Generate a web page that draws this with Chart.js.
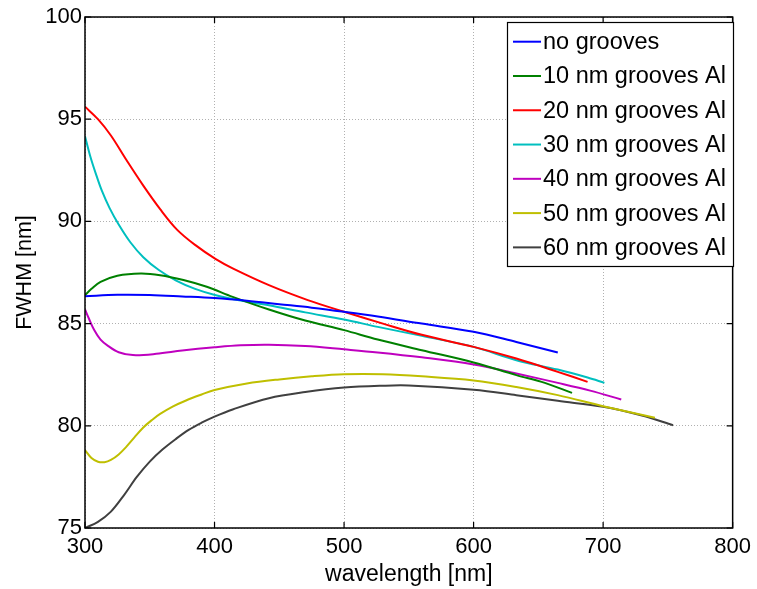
<!DOCTYPE html>
<html>
<head>
<meta charset="utf-8">
<script src="https://cdn.jsdelivr.net/npm/chart.js@4.4.1/dist/chart.umd.min.js"></script>
<style>
  html, body { margin: 0; padding: 0; background: #ffffff; }
  #wrap { width: 757px; height: 589px; position: relative; }
</style>
</head>
<body>
<div id="wrap"><canvas id="c" width="757" height="589"></canvas></div>
<script>
// ---- data ----
const seriesLabels = ['no grooves', '10 nm grooves Al', '20 nm grooves Al', '30 nm grooves Al',
                      '40 nm grooves Al', '50 nm grooves Al', '60 nm grooves Al'];

const wl0  = [300, 325, 350, 375, 400, 425, 450, 475, 500, 526, 560, 600, 633, 665];
const fw0  = [86.34, 86.41, 86.40, 86.33, 86.25, 86.12, 85.95, 85.78, 85.58, 85.35, 85.00, 84.60, 84.10, 83.59];

const wl10 = [300, 305, 312, 325, 343, 358, 376, 394, 414, 442, 470, 500, 526, 560, 600, 633, 655, 676];
const fw10 = [86.39, 86.70, 87.04, 87.34, 87.45, 87.37, 87.13, 86.80, 86.31, 85.69, 85.15, 84.68, 84.22, 83.70, 83.10, 82.48, 82.10, 81.61];

const wl20 = [300, 310, 320, 332, 345, 358, 371, 385, 401, 414, 442, 472, 500, 530, 560, 600, 633, 665, 688];
const fw20 = [95.61, 95.00, 94.20, 93.00, 91.75, 90.60, 89.60, 88.85, 88.15, 87.70, 86.88, 86.15, 85.58, 85.00, 84.45, 83.86, 83.29, 82.64, 82.15];

const wl30 = [300, 304, 308, 313, 319, 326, 335, 345, 357, 370, 385, 401, 420, 442, 470, 500, 526, 560, 600, 633, 665, 688, 701];
const fw30 = [94.17, 93.20, 92.40, 91.50, 90.65, 89.85, 88.98, 88.25, 87.62, 87.12, 86.70, 86.39, 86.13, 85.90, 85.55, 85.20, 84.84, 84.40, 83.86, 83.21, 82.75, 82.36, 82.10];

const wl40 = [300, 303, 307, 312, 318, 326, 337, 355, 375, 400, 420, 442, 470, 500, 526, 560, 600, 633, 665, 690, 714];
const fw40 = [85.69, 85.25, 84.70, 84.22, 83.90, 83.60, 83.46, 83.52, 83.68, 83.84, 83.94, 83.97, 83.90, 83.74, 83.59, 83.35, 83.00, 82.56, 82.10, 81.72, 81.29];

const wl50 = [300, 305, 310, 315, 320, 326, 332, 338, 345, 352, 358, 368, 378, 390, 400, 425, 450, 475, 500, 530, 560, 600, 633, 665, 700, 740];
const fw50 = [78.81, 78.42, 78.24, 78.22, 78.33, 78.60, 78.98, 79.42, 79.92, 80.30, 80.58, 80.95, 81.24, 81.53, 81.75, 82.07, 82.27, 82.42, 82.52, 82.52, 82.42, 82.22, 81.90, 81.50, 80.96, 80.39];

const wl60 = [300, 310, 320, 330, 340, 350, 360, 370, 380, 390, 400, 414, 442, 470, 500, 530, 550, 600, 633, 665, 700, 730, 754];
const fw60 = [75.00, 75.30, 75.80, 76.60, 77.50, 78.25, 78.85, 79.35, 79.80, 80.15, 80.45, 80.80, 81.35, 81.65, 81.87, 81.96, 81.97, 81.76, 81.50, 81.22, 80.93, 80.50, 80.03];

const xTicks = [300, 400, 500, 600, 700, 800];
const yTicks = [75, 80, 85, 90, 95, 100];

const xTitle = 'wavelength [nm]';
const yTitle = 'FWHM [nm]';

// ---- build datasets ----
const wls = [wl0, wl10, wl20, wl30, wl40, wl50, wl60];
const fws = [fw0, fw10, fw20, fw30, fw40, fw50, fw60];
const colors = ['#0000ff', '#008000', '#ff0000', '#00bfbf', '#bf00bf', '#bfbf00', '#404040'];

const datasets = seriesLabels.map((lab, i) => ({
  label: lab,
  data: wls[i].map((x, j) => ({ x: x, y: fws[i][j] })),
  borderColor: colors[i],
  backgroundColor: colors[i],
  borderWidth: 2,
  pointRadius: 0,
  fill: false,
  tension: 0.35
}));

// ---- frame with inward ticks + boxed legend ----
const framePlugin = {
  id: 'frame',
  afterDatasetsDraw(chart) {
    const { ctx, chartArea: a, scales } = chart;
    ctx.save();
    ctx.strokeStyle = '#000';
    ctx.lineWidth = 1.5;
    ctx.strokeRect(a.left, a.top, a.right - a.left, a.bottom - a.top);
    const tl = 6;
    ctx.lineWidth = 1.2;
    ctx.beginPath();
    xTicks.forEach(v => {
      const px = scales.x.getPixelForValue(v);
      ctx.moveTo(px, a.bottom); ctx.lineTo(px, a.bottom - tl);
      ctx.moveTo(px, a.top); ctx.lineTo(px, a.top + tl);
    });
    yTicks.forEach(v => {
      const py = scales.y.getPixelForValue(v);
      ctx.moveTo(a.left, py); ctx.lineTo(a.left + tl, py);
      ctx.moveTo(a.right, py); ctx.lineTo(a.right - tl, py);
    });
    ctx.stroke();
    ctx.restore();
  },
  afterDraw(chart) {
    const { ctx } = chart;
    const ds = chart.data.datasets;
    ctx.save();
    const bx = 507, by = 22, bw = 226, bh = 244;
    ctx.fillStyle = '#fff';
    ctx.fillRect(bx, by, bw, bh);
    ctx.strokeStyle = '#000';
    ctx.lineWidth = 1.2;
    ctx.strokeRect(bx + 0.5, by + 0.5, bw, bh);
    ctx.font = '23.5px "Liberation Sans", Arial, sans-serif';
    ctx.textBaseline = 'middle';
    ctx.textAlign = 'left';
    ds.forEach((d, i) => {
      const cy = 41.7 + i * 34.28;
      ctx.strokeStyle = d.borderColor;
      ctx.lineWidth = 2;
      ctx.beginPath();
      ctx.moveTo(513, cy); ctx.lineTo(541, cy);
      ctx.stroke();
      ctx.fillStyle = '#000';
      ctx.fillText(d.label, 543, cy + 1);
    });
    ctx.restore();
  }
};

new Chart(document.getElementById('c'), {
  type: 'line',
  data: { datasets: datasets },
  plugins: [framePlugin],
  options: {
    responsive: false,
    animation: false,
    devicePixelRatio: 1,
    layout: { padding: { top: 17, right: 20, left: 0, bottom: 0 } },
    plugins: { legend: { display: false }, tooltip: { enabled: false } },
    scales: {
      x: {
        type: 'linear',
        min: 300, max: 800,
        afterBuildTicks: s => { s.ticks = xTicks.map(v => ({ value: v })); },
        afterFit: s => { s.height = 61; },
        ticks: {
          color: '#000',
          font: { family: '"Liberation Sans", Arial, sans-serif', size: 22 },
          padding: 6,
          maxRotation: 0,
          autoSkip: false
        },
        grid: { color: '#b0b0b0', lineWidth: 1, drawTicks: false },
        border: { display: false, dash: [1, 2] },
        title: {
          display: true, text: xTitle, color: '#000',
          font: { family: '"Liberation Sans", Arial, sans-serif', size: 23 },
          padding: { top: 0, bottom: 1 }
        }
      },
      y: {
        type: 'linear',
        min: 75, max: 100,
        afterBuildTicks: s => { s.ticks = yTicks.map(v => ({ value: v })); },
        afterFit: s => { s.width = 85; },
        ticks: {
          color: '#000',
          font: { family: '"Liberation Sans", Arial, sans-serif', size: 22 },
          padding: 3,
          autoSkip: false
        },
        grid: { color: '#b0b0b0', lineWidth: 1, drawTicks: false },
        border: { display: false, dash: [1, 2] },
        title: {
          display: true, text: yTitle, color: '#000',
          font: { family: '"Liberation Sans", Arial, sans-serif', size: 21.5 },
          padding: { top: 12, bottom: 0 }
        }
      }
    }
  }
});
</script>
</body>
</html>
